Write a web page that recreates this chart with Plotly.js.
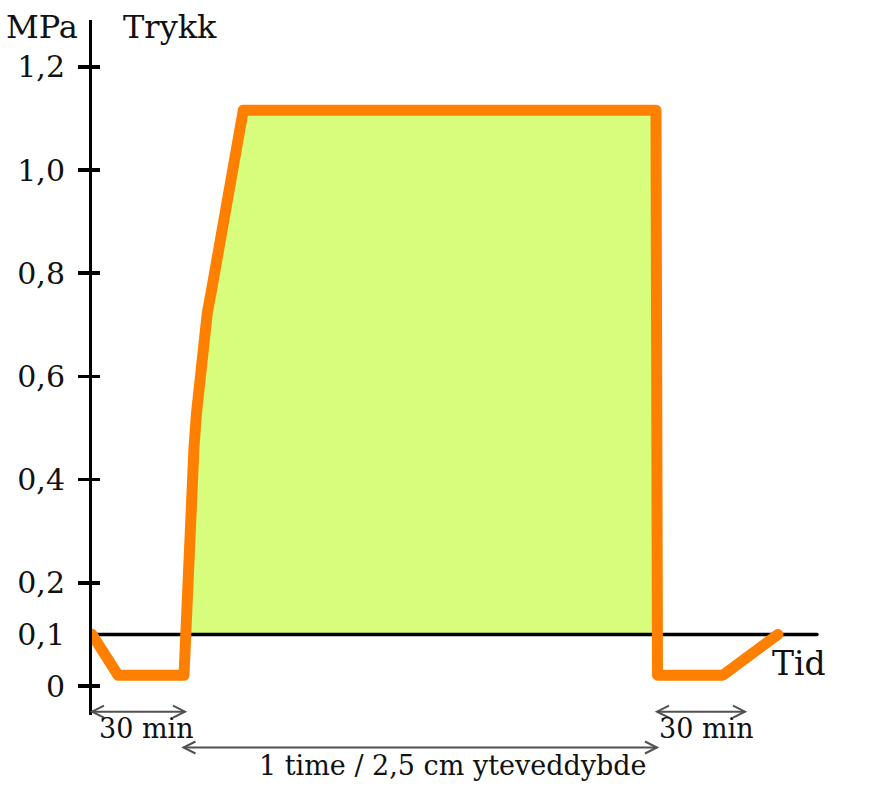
<!DOCTYPE html>
<html>
<head>
<meta charset="utf-8">
<script src="https://cdn.plot.ly/plotly-3.0.1.min.js"></script>
<style>
html,body{margin:0;padding:0;background:#fff;}
#chart{width:872px;height:785px;}
.js-line{stroke-linejoin:round !important;stroke-linecap:round !important;}
</style>
</head>
<body>
<div id="chart"></div>
<script>
// ---- data ----
const tid   = [0, 8.6, 30.33, 30.99, 31.85, 32.60, 33.63, 34.45, 35.47, 36.66, 38.01, 39.40, 49.88, 185.93, 186.43, 208.02, 226.15];
const trykk = [0.1, 0.021, 0.021, 0.141, 0.269, 0.360, 0.463, 0.529, 0.593, 0.657, 0.723, 0.767, 1.116, 1.116, 0.021, 0.021, 0.1];
const baseT = [0, 239];
const baseP = [0.1, 0.1];
const tickVals = [0, 0.1, 0.2, 0.4, 0.6, 0.8, 1.0, 1.2];
const tickText = ['0', '0,1', '0,2', '0,4', '0,6', '0,8', '1,0', '1,2'];
const markVals = [0, 0.2, 0.4, 0.6, 0.8, 1.0, 1.2];
const labelY = 'MPa', titleY = 'Trykk', labelX = 'Tid';
const dimShort = '30 min';
const dimLong = '1 time / 2,5 cm yteveddybde';

// ---- layout helpers ----
const W = 872, H = 785, mL = 92, mR = 12, mT = 20, mB = 70;
const pw = W - mL - mR, ph = H - mT - mB;
const px = x => (x - mL) / pw;
const py = y => (H - mB - y) / ph;
const FONT = 'DejaVu Serif, Liberation Serif, serif';

// fill polygon: curve section between the two drops, clipped at the 0.1 line
const i0 = 2, i1 = tid.length - 2;
const fillT = tid.slice(i0, i1);
const fillP = trykk.slice(i0, i1).map(v => Math.max(v, 0.1));

const traces = [
  {x: fillT, y: fillP, mode: 'lines', fill: 'toself', fillcolor: '#d8fc7b',
   line: {width: 0}, hoverinfo: 'skip', yaxis: 'y', showlegend: false},
  {x: baseT, y: baseP, mode: 'lines', line: {color: '#000', width: 3.5},
   hoverinfo: 'skip', yaxis: 'y2', showlegend: false, cliponaxis: false},
  {x: tid, y: trykk, mode: 'lines', line: {color: '#ff8000', width: 11},
   hoverinfo: 'skip', yaxis: 'y3', showlegend: false, cliponaxis: false}
];

const yr = [(686 - 715) / 516, (686 - 20) / 516];

function arrow(x0, x1, y, col) {
  const L = 12, h = 6;
  const out = [];
  out.push({type: 'line', xref: 'paper', yref: 'paper', x0: px(x0), x1: px(x1), y0: py(y), y1: py(y),
            line: {color: col, width: 2}});
  out.push({type: 'path', xref: 'paper', yref: 'paper',
            path: `M ${px(x0 + L)} ${py(y - h)} L ${px(x0)} ${py(y)} L ${px(x0 + L)} ${py(y + h)}`,
            line: {color: col, width: 2}});
  out.push({type: 'path', xref: 'paper', yref: 'paper',
            path: `M ${px(x1 - L)} ${py(y - h)} L ${px(x1)} ${py(y)} L ${px(x1 - L)} ${py(y + h)}`,
            line: {color: col, width: 2}});
  return out;
}
const AC = '#505050';
const shapes = [].concat(
  arrow(92, 185, 711.7, AC),
  arrow(657, 745, 711.7, AC),
  arrow(183.5, 657, 747.5, AC)
);

function txt(t, x, y, size, anchor) {
  return {text: t, xref: 'paper', yref: 'paper', x: px(x), y: py(y), showarrow: false,
          xanchor: anchor || 'center', yanchor: 'middle', font: {family: FONT, size: size, color: '#111'}};
}
const annotations = [
  txt(labelY, 41.5, 27, 32),
  txt(titleY, 170, 27, 32),
  txt(labelX, 799, 663, 33),
  txt(dimShort, 146, 728, 27),
  txt(dimShort, 706, 728, 27),
  txt(dimLong, 452.5, 765, 27)
];

const layout = {
  width: W, height: H,
  margin: {l: mL, r: mR, t: mT, b: mB, pad: 0},
  paper_bgcolor: '#fff', plot_bgcolor: 'rgba(0,0,0,0)',
  showlegend: false,
  font: {family: FONT, color: '#111'},
  xaxis: {range: [0, pw / (91 / 30)], showgrid: false, zeroline: false, showline: false,
          showticklabels: false, ticks: '', fixedrange: true},
  yaxis: {range: yr, showgrid: false, zeroline: false, showline: false, ticks: '',
          tickvals: tickVals, ticktext: tickText, tickfont: {family: FONT, size: 30, color: '#111'},
          ticklabelstandoff: 26, automargin: false, fixedrange: true},
  yaxis2: {range: yr, overlaying: 'y', anchor: 'x', side: 'left', showgrid: false, zeroline: false,
           showline: true, linecolor: '#000', linewidth: 3.5, ticks: 'outside', ticklen: 11,
           tickwidth: 3.5, tickcolor: '#000', tickvals: markVals, showticklabels: false,
           automargin: false, fixedrange: true},
  yaxis3: {range: yr, overlaying: 'y', anchor: 'x', side: 'left', showgrid: false, zeroline: false,
           showline: false, ticks: 'inside', ticklen: 8, tickwidth: 3.5, tickcolor: '#000',
           tickvals: markVals, showticklabels: false, automargin: false, fixedrange: true},
  shapes: shapes,
  annotations: annotations
};

Plotly.newPlot('chart', traces, layout, {staticPlot: true, displayModeBar: false});
</script>
</body>
</html>
